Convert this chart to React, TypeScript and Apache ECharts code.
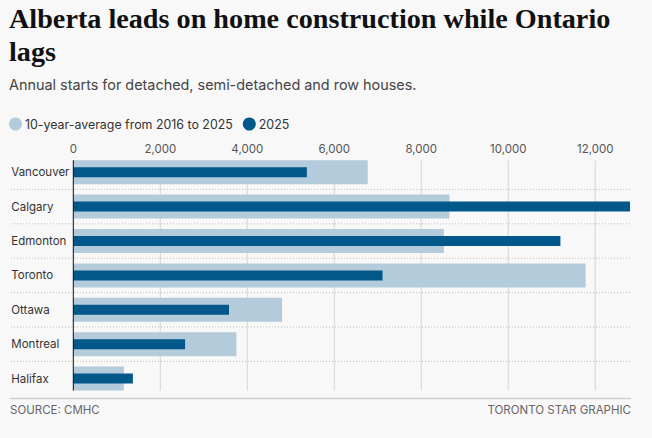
import React, { useEffect, useRef } from "react";
import * as echarts from "echarts";

const CITIES = ["Vancouver", "Calgary", "Edmonton", "Toronto", "Ottawa", "Montreal", "Halifax"];
const AVG_10Y = [6770, 8650, 8520, 11780, 4800, 3750, 1160];
const Y2025 = [5370, 12800, 11200, 7110, 3580, 2570, 1370];
const TICK_VALUES = [0, 2000, 4000, 6000, 8000, 10000, 12000];
const X_MAX = 12800;

const TITLE = "Alberta leads on home construction while Ontario lags";
const SUBTITLE = "Annual starts for detached, semi-detached and row houses.";
const LEGEND_AVG = "10-year-average from 2016 to 2025";
const LEGEND_2025 = "2025";
const SOURCE = "SOURCE: CMHC";
const CREDIT = "TORONTO STAR GRAPHIC";

const LIGHT = "#b3cbda";
const DARK = "#02588a";
const SANS = "Inter, 'Noto Sans', sans-serif";

export default function App() {
  const ref = useRef<HTMLDivElement>(null);
  useEffect(() => {
    if (!ref.current) return;
    const chart = echarts.init(ref.current, null, { renderer: "svg" });
    const halfBar = 12;
    const option: any = {
      animation: false,
      backgroundColor: "#f8f8f8",
      textStyle: { fontFamily: SANS },
      grid: { left: 73.3, right: 22, top: 155, bottom: 42.2, containLabel: false },
      legend: {
        left: 9,
        top: 117.5,
        icon: "circle",
        itemWidth: 13,
        itemHeight: 13,
        itemGap: 10,
        padding: 0,
        textStyle: { fontFamily: SANS, fontSize: 12.4, color: "#333", padding: [0, 0, 0, -2] },
        data: [LEGEND_AVG, LEGEND_2025],
      },
      xAxis: {
        type: "value",
        position: "top",
        min: 0,
        max: X_MAX,
        interval: 2000,
        axisLine: { show: false },
        axisTick: { show: false },
        splitLine: { show: false },
        axisLabel: {
          margin: 0,
          fontFamily: SANS,
          fontSize: 11.5,
          color: "#555",
          formatter: (v: number) => (TICK_VALUES.includes(v) ? v.toLocaleString("en-US") : ""),
        },
      },
      yAxis: [
        {
          type: "category",
          data: CITIES,
          inverse: true,
          axisLine: { show: false },
          axisTick: { show: false },
          splitLine: { show: false },
          axisLabel: {
            align: "left",
            margin: 62,
            fontFamily: SANS,
            fontSize: 11.5,
            color: "#333",
          },
        },
        {
          type: "category",
          data: CITIES,
          inverse: true,
          show: false,
        },
      ],
      series: [
        {
          type: "custom",
          name: "grid",
          z: 0,
          clip: false,
          silent: true,
          data: TICK_VALUES.filter((v) => v > 0).map((v) => [v]),
          renderItem: (_p: any, api: any) => {
            const x = api.coord([api.value(0), 0])[0];
            const y0 = api.coord([0, 0])[1] - halfBar;
            const y1 = api.coord([0, CITIES.length - 1])[1] + halfBar;
            return {
              type: "line",
              shape: { x1: x, y1: y0, x2: x, y2: y1 },
              style: { stroke: "#d4d4d4", lineWidth: 1 },
            };
          },
        },
        {
          type: "custom",
          name: "separators",
          z: 0,
          clip: false,
          silent: true,
          data: CITIES.slice(0, -1).map((_c, i) => [i]),
          renderItem: (_p: any, api: any) => {
            const i = api.value(0);
            const y = (api.coord([0, i])[1] + api.coord([0, i + 1])[1]) / 2;
            const xr = api.coord([X_MAX, 0])[0];
            return {
              type: "line",
              shape: { x1: 11, y1: y, x2: xr, y2: y },
              style: { stroke: "#bdbdbd", lineWidth: 1, lineDash: [1, 2] },
            };
          },
        },
        {
          type: "bar",
          name: LEGEND_AVG,
          yAxisIndex: 0,
          barWidth: 24,
          z: 2,
          itemStyle: { color: LIGHT },
          data: AVG_10Y,
        },
        {
          type: "bar",
          name: LEGEND_2025,
          yAxisIndex: 1,
          barWidth: 10,
          z: 3,
          itemStyle: { color: DARK },
          data: Y2025,
        },
        {
          type: "custom",
          name: "zero",
          z: 10,
          clip: false,
          silent: true,
          data: [[0]],
          renderItem: (_p: any, api: any) => {
            const x = api.coord([api.value(0), 0])[0];
            const y0 = api.coord([0, 0])[1] - halfBar;
            const y1 = api.coord([0, CITIES.length - 1])[1] + halfBar;
            return {
              type: "line",
              shape: { x1: x, y1: y0, x2: x, y2: y1 },
              style: { stroke: "#111", lineWidth: 1 },
            };
          },
        },
      ],
      graphic: [
        {
          type: "text",
          left: 9,
          top: 2,
          style: {
            text: TITLE,
            width: 620,
            overflow: "break",
            fontFamily: "'Liberation Serif', 'DejaVu Serif', serif",
            fontWeight: "bold",
            fontSize: 28.2,
            lineHeight: 33,
            fill: "#111",
          },
        },
        {
          type: "text",
          left: 9,
          top: 77.5,
          style: {
            text: SUBTITLE,
            fontFamily: SANS,
            fontSize: 14.4,
            fill: "#444",
          },
        },
        {
          type: "line",
          shape: { x1: 10, y1: 398.5, x2: 631, y2: 398.5 },
          style: { stroke: "#cfcfcf", lineWidth: 1.5 },
        },
        {
          type: "text",
          left: 10,
          top: 404,
          style: { text: SOURCE, fontFamily: SANS, fontSize: 11.5, fill: "#666" },
        },
        {
          type: "text",
          right: 21,
          top: 404,
          style: { text: CREDIT, fontFamily: SANS, fontSize: 11.5, fill: "#666" },
        },
      ],
    };
    chart.setOption(option);
    return () => chart.dispose();
  }, []);
  return (
    <div
      ref={ref}
      style={{ position: "fixed", left: 0, top: 0, width: 652, height: 438, background: "#f8f8f8" }}
    />
  );
}
